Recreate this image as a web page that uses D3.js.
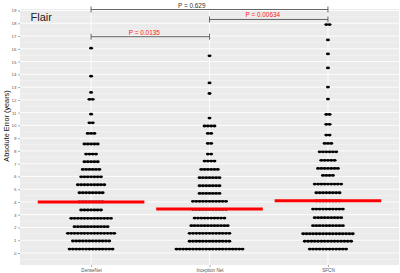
<!DOCTYPE html>
<html>
<head>
<meta charset="utf-8">
<script src="https://cdn.jsdelivr.net/npm/d3@7"></script>
<style>
  body { margin: 0; background: #fff; }
  svg { display: block; font-family: "Liberation Sans", Arial, sans-serif; }
</style>
</head>
<body>
<div id="chart"></div>
<script>
var width = 400;
var height = 273;

// categories along the x axis
var models = ["DenseNet", "Inception Net", "SFCN"];

// dot rows per model: absolute error bin (years) and number of dots in it
var denseRows = [16.05, 13.86, 12.58, 12.04, 10.88, 10.2, 9.37, 8.54, 7.75, 7.15, 6.55, 5.97, 5.35, 4.72, 4.0, 3.37, 2.72, 2.06, 1.54, 0.94, 0.31];
var denseCounts = [1, 1, 1, 2, 1, 2, 3, 5, 4, 5, 6, 7, 9, 8, 8, 7, 13, 11, 15, 12, 14];

var inceptionRows = [15.45, 13.33, 12.5, 10.57, 9.95, 9.37, 8.59, 7.75, 7.2, 6.55, 5.9, 5.27, 4.67, 4.05, 3.42, 2.74, 2.14, 1.54, 0.92, 0.31];
var inceptionCounts = [1, 1, 1, 1, 4, 2, 2, 2, 4, 6, 7, 7, 7, 11, 11, 10, 12, 13, 13, 21];

var sfcnRows = [17.9, 16.7, 15.6, 14.5, 13.0, 12.06, 10.86, 10.08, 9.24, 8.59, 7.93, 7.26, 6.63, 6.08, 5.4, 4.72, 4.08, 3.44, 2.77, 2.14, 1.51, 0.92, 0.31];
var sfcnCounts = [2, 1, 1, 1, 1, 1, 2, 2, 2, 3, 6, 5, 7, 4, 9, 8, 8, 10, 9, 10, 16, 15, 12];

// mean absolute error (red bars)
var means = [4.0, 3.45, 4.1];

// y ticks
var yTicks = d3.range(0, 20);

// pairwise comparisons: from, to, bracket height, label, label x (in category units), colour
var compFrom = [0, 1, 0];
var compTo = [2, 2, 1];
var compY = [19.08, 18.3, 16.95];
var compLabel = ["P = 0.629", "P = 0.00634", "P = 0.0135"];
var compLabelX = [0.85, 1.45, 0.45];
var compColor = ["#333333", "#ff2020", "#ff2020"];

var groups = [
  {name: models[0], rows: denseRows, counts: denseCounts},
  {name: models[1], rows: inceptionRows, counts: inceptionCounts},
  {name: models[2], rows: sfcnRows, counts: sfcnCounts}
];

var panel = {left: 20, right: 399, top: 9, bottom: 265};

var svg = d3.select("#chart").append("svg")
    .attr("width", width)
    .attr("height", height);

var x = d3.scalePoint()
    .domain(models)
    .range([panel.left, panel.right])
    .padding(0.6);

// numeric version of the same scale, for bracket / label positions
var xn = d3.scaleLinear()
    .domain([0, 2])
    .range([x(models[0]), x(models[2])]);

var y = d3.scaleLinear()
    .domain([-0.94, 19.12])
    .range([panel.bottom, panel.top]);

// panel background
svg.append("rect")
    .attr("x", panel.left)
    .attr("y", panel.top)
    .attr("width", panel.right - panel.left)
    .attr("height", panel.bottom - panel.top)
    .attr("fill", "#ebebeb");

// minor grid
svg.selectAll(".minor")
    .data(d3.range(-0.5, 19.5, 1))
    .enter().append("line")
      .attr("class", "minor")
      .attr("x1", panel.left).attr("x2", panel.right)
      .attr("y1", function(d) { return y(d); })
      .attr("y2", function(d) { return y(d); })
      .attr("stroke", "#f6f6f6")
      .attr("stroke-width", 0.5);

// major grid
svg.selectAll(".major")
    .data(yTicks)
    .enter().append("line")
      .attr("class", "major")
      .attr("x1", panel.left).attr("x2", panel.right)
      .attr("y1", function(d) { return y(d); })
      .attr("y2", function(d) { return y(d); })
      .attr("stroke", "#ffffff")
      .attr("stroke-width", 0.9);

svg.selectAll(".vgrid")
    .data(models)
    .enter().append("line")
      .attr("class", "vgrid")
      .attr("x1", function(d) { return x(d); })
      .attr("x2", function(d) { return x(d); })
      .attr("y1", panel.top).attr("y2", panel.bottom)
      .attr("stroke", "#ffffff")
      .attr("stroke-width", 0.9);

// y axis
var yAxis = svg.append("g")
    .attr("transform", "translate(" + panel.left + ",0)")
    .call(d3.axisLeft(y).tickValues(yTicks).tickSize(2).tickPadding(1.5));
yAxis.select(".domain").remove();
yAxis.selectAll("line").attr("stroke", "#555").attr("stroke-width", 0.5);
yAxis.selectAll("text")
    .attr("fill", "#555")
    .style("font-size", "4.4px")
    .style("font-family", "Liberation Sans, Arial, sans-serif");

// x axis
var xAxis = svg.append("g")
    .attr("transform", "translate(0," + panel.bottom + ")")
    .call(d3.axisBottom(x).tickSize(2).tickPadding(1.5));
xAxis.select(".domain").remove();
xAxis.selectAll("line").attr("stroke", "#555").attr("stroke-width", 0.5);
xAxis.selectAll("text")
    .attr("fill", "#555")
    .style("font-size", "4.6px")
    .style("font-family", "Liberation Sans, Arial, sans-serif");

// axis title
svg.append("text")
    .attr("transform", "translate(9,126) rotate(-90)")
    .attr("text-anchor", "middle")
    .style("font-size", "7.3px")
    .attr("fill", "#111")
    .text("Absolute Error (years)");

// dot stacks (dots overlap sideways, so rows read as short bars)
var dotStep = 3.3;
var dots = [];
groups.forEach(function(g) {
  g.rows.forEach(function(v, i) {
    var n = g.counts[i];
    for (var k = 0; k < n; k++) {
      dots.push({model: g.name, value: v, offset: (k - (n - 1) / 2) * dotStep});
    }
  });
});

svg.selectAll(".dot")
    .data(dots)
    .enter().append("ellipse")
      .attr("class", "dot")
      .attr("cx", function(d) { return x(d.model) + d.offset; })
      .attr("cy", function(d) { return y(d.value); })
      .attr("rx", 2.0)
      .attr("ry", 1.4)
      .attr("fill", "#000");

// mean bars
var barHalf = 0.45 * x.step();
svg.selectAll(".mean")
    .data(means)
    .enter().append("line")
      .attr("class", "mean")
      .attr("x1", function(d, i) { return x(models[i]) - barHalf; })
      .attr("x2", function(d, i) { return x(models[i]) + barHalf; })
      .attr("y1", function(d) { return y(d); })
      .attr("y2", function(d) { return y(d); })
      .attr("stroke", "#ff0000")
      .attr("stroke-width", 3);

// significance brackets
var comps = compY.map(function(v, i) {
  return {from: compFrom[i], to: compTo[i], y: v, label: compLabel[i], lx: compLabelX[i], color: compColor[i]};
});

var br = svg.selectAll(".bracket")
    .data(comps)
    .enter().append("g")
      .attr("class", "bracket");

br.append("line")
    .attr("x1", function(d) { return xn(d.from); })
    .attr("x2", function(d) { return xn(d.to); })
    .attr("y1", function(d) { return y(d.y); })
    .attr("y2", function(d) { return y(d.y); })
    .attr("stroke", "#555")
    .attr("stroke-width", 0.9);

br.selectAll(".whisker")
    .data(function(d) { return [{x: d.from, y: d.y}, {x: d.to, y: d.y}]; })
    .enter().append("line")
      .attr("class", "whisker")
      .attr("x1", function(d) { return xn(d.x); })
      .attr("x2", function(d) { return xn(d.x); })
      .attr("y1", function(d) { return y(d.y) - 3; })
      .attr("y2", function(d) { return y(d.y) + 3; })
      .attr("stroke", "#555")
      .attr("stroke-width", 0.9);

br.append("text")
    .attr("x", function(d) { return xn(d.lx); })
    .attr("y", function(d) { return y(d.y) - 2; })
    .attr("text-anchor", "middle")
    .attr("fill", function(d) { return d.color; })
    .style("font-size", "6.4px")
    .text(function(d) { return d.label; });

// panel title
svg.append("text")
    .attr("x", 30.5)
    .attr("y", 20.5)
    .attr("fill", "#222")
    .style("font-size", "11px")
    .text("Flair");
</script>
</body>
</html>
